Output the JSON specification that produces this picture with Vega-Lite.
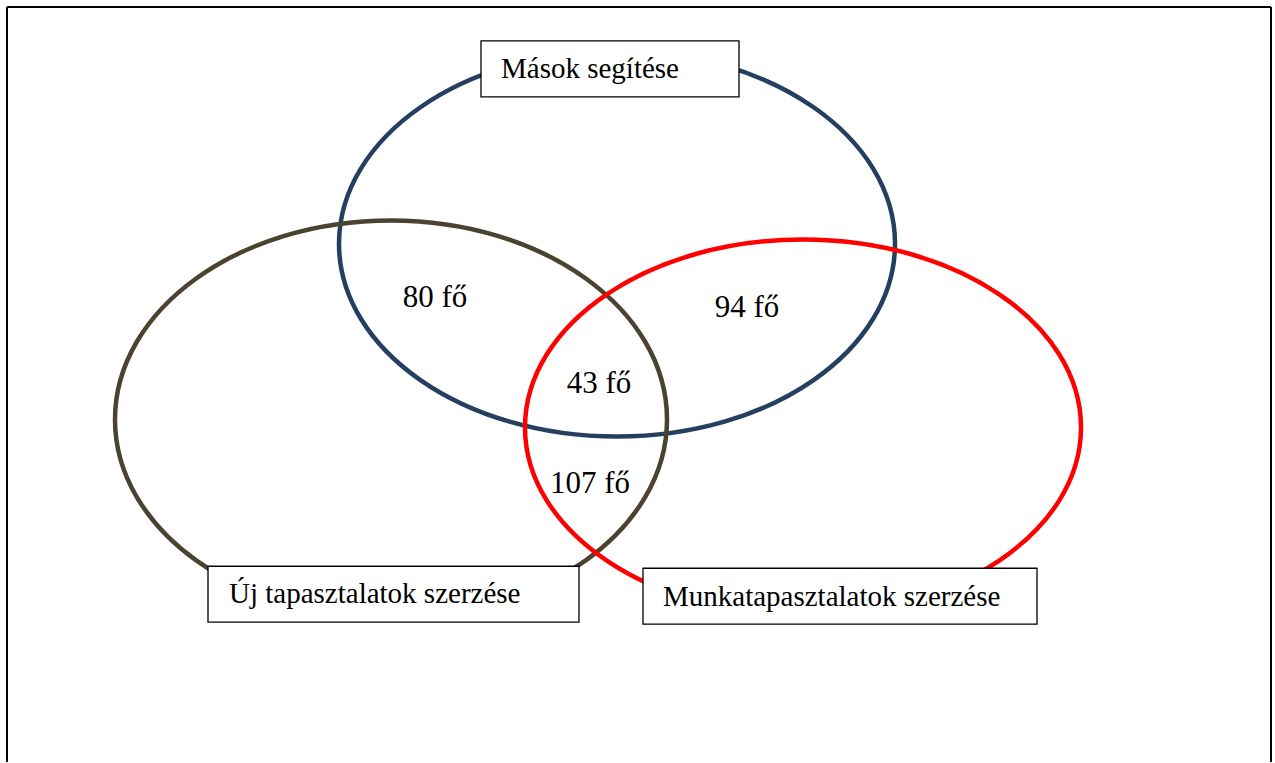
{
  "$schema": "https://vega.github.io/schema/vega-lite/v6.json",
  "autosize": {"type": "fit", "contains": "padding"},
  "width": 1275,
  "height": 763,
  "padding": 0,
  "background": "white",
  "config": {"view": {"stroke": null}},
  "datasets": {
    "frame": [
      {"x0": 7, "x1": 7, "y0": 7, "y1": 763},
      {"x0": 1271, "x1": 1271, "y0": 7, "y1": 763},
      {"x0": 7, "x1": 1271, "y0": 7, "y1": 7}
    ],
    "sets": [
      {"name": "Mások segítése", "cx": 617, "cy": 244, "size": 309136, "color": "#243F60", "order": 1,
       "path": "M -1 0 C -1 -0.3833 -0.5523 -0.694 0 -0.694 C 0.5523 -0.694 1 -0.3833 1 0 C 1 0.3833 0.5523 0.694 0 0.694 C -0.5523 0.694 -1 0.3833 -1 0 Z"},
      {"name": "Új tapasztalatok szerzése", "cx": 391, "cy": 420, "size": 304704, "color": "#4A4330", "order": 2,
       "path": "M -1 0 C -1 -0.3982 -0.5523 -0.721 0 -0.721 C 0.5523 -0.721 1 -0.3982 1 0 C 1 0.3982 0.5523 0.721 0 0.721 C -0.5523 0.721 -1 0.3982 -1 0 Z"},
      {"name": "Munkatapasztalatok szerzése", "cx": 803, "cy": 428, "size": 309136, "color": "#FF0000", "order": 3,
       "path": "M -1 0 C -1 -0.3734 -0.5523 -0.676 0 -0.676 C 0.5523 -0.676 1 -0.3734 1 0 C 1 0.3734 0.5523 0.676 0 0.676 C -0.5523 0.676 -1 0.3734 -1 0 Z"}
    ],
    "boxes": [
      {"label": "Mások segítése", "x0": 481, "x1": 739, "y0": 41, "y1": 97, "tx": 501, "ty": 78},
      {"label": "Új tapasztalatok szerzése", "x0": 208, "x1": 579, "y0": 567, "y1": 623, "tx": 229, "ty": 604},
      {"label": "Munkatapasztalatok szerzése", "x0": 643, "x1": 1037, "y0": 569, "y1": 625, "tx": 663, "ty": 607}
    ],
    "counts": [
      {"label": "80 fő", "x": 435, "y": 307},
      {"label": "94 fő", "x": 747, "y": 317},
      {"label": "43 fő", "x": 599, "y": 394},
      {"label": "107 fő", "x": 590, "y": 494}
    ]
  },
  "layer": [
    {
      "data": {"name": "frame"},
      "mark": {"type": "rule", "stroke": "black", "strokeWidth": 2},
      "encoding": {
        "x": {"field": "x0", "type": "quantitative", "scale": {"domain": [0, 1275], "nice": false, "zero": false}, "axis": null},
        "x2": {"field": "x1"},
        "y": {"field": "y0", "type": "quantitative", "scale": {"domain": [0, 763], "nice": false, "zero": false, "reverse": true}, "axis": null},
        "y2": {"field": "y1"}
      }
    },
    {
      "data": {"name": "sets"},
      "mark": {"type": "point", "filled": false, "strokeWidth": 4.5, "opacity": 1},
      "encoding": {
        "x": {"field": "cx", "type": "quantitative"},
        "y": {"field": "cy", "type": "quantitative"},
        "shape": {"field": "path", "type": "nominal", "scale": null},
        "size": {"field": "size", "type": "quantitative", "scale": null},
        "stroke": {"field": "color", "type": "nominal", "scale": null},
        "order": {"field": "order", "type": "quantitative"}
      }
    },
    {
      "data": {"name": "boxes"},
      "mark": {"type": "rect", "fill": "white", "stroke": "black", "strokeWidth": 1.3},
      "encoding": {
        "x": {"field": "x0", "type": "quantitative"},
        "x2": {"field": "x1"},
        "y": {"field": "y0", "type": "quantitative"},
        "y2": {"field": "y1"}
      }
    },
    {
      "data": {"name": "boxes"},
      "mark": {"type": "text", "align": "left", "baseline": "alphabetic", "font": "Liberation Serif", "fontSize": 29, "color": "black"},
      "encoding": {
        "x": {"field": "tx", "type": "quantitative"},
        "y": {"field": "ty", "type": "quantitative"},
        "text": {"field": "label"}
      }
    },
    {
      "data": {"name": "counts"},
      "mark": {"type": "text", "align": "center", "baseline": "alphabetic", "font": "Liberation Serif", "fontSize": 31, "color": "black"},
      "encoding": {
        "x": {"field": "x", "type": "quantitative"},
        "y": {"field": "y", "type": "quantitative"},
        "text": {"field": "label"}
      }
    }
  ]
}
